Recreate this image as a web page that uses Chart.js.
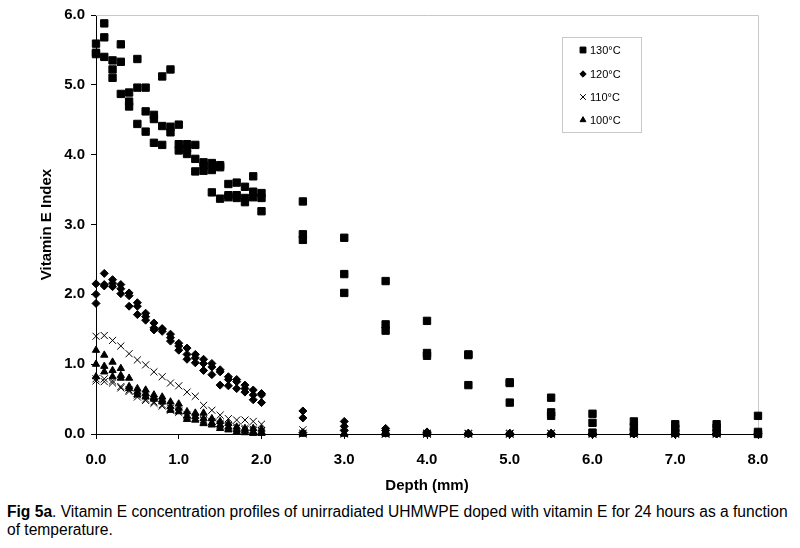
<!DOCTYPE html>
<html>
<head>
<meta charset="utf-8">
<script src="https://cdn.jsdelivr.net/npm/chart.js@4/dist/chart.umd.min.js"></script>
<style>
  body { margin: 0; background: #fff; }
  #wrap { position: relative; width: 800px; height: 548px; }
  #box { position: absolute; left: 0; top: 0; width: 800px; height: 495px; }
  #caption {
    position: absolute; left: 7px; top: 503px; width: 795px;
    font-family: "Liberation Sans", Arial, sans-serif; font-size: 15.6px;
    line-height: 18px; color: #000; white-space: nowrap;
  }
</style>
</head>
<body>
<div id="wrap">
  <div id="box"><canvas id="myChart"></canvas></div>
  <div id="caption"><b>Fig 5a</b>. Vitamin E concentration profiles of unirradiated UHMWPE doped with vitamin E for 24 hours as a function<br>of temperature.</div>
</div>
<script>
// depth (mm)
var depths = [0, 0.1, 0.2, 0.3, 0.4, 0.5, 0.6, 0.7, 0.8, 0.9, 1.0, 1.1, 1.2, 1.3, 1.4, 1.5, 1.6, 1.7, 1.8, 1.9, 2.0,
  2.5, 3.0, 3.5, 4.0, 4.5, 5.0, 5.5, 6.0, 6.5, 7.0, 7.5, 8.0];

// vitamin E index, three samples per temperature
var t130a = [5.59, 5.88, 5.35, 5.58, 4.89, 5.37, 4.96, 4.57, 5.12, 5.22, 4.43, 4.15, 4.14, 3.89, 3.88, 3.85, 3.58, 3.60, 3.54, 3.69, 3.45,
  3.33, 2.81, 2.19, 1.62, 1.14, 0.74, 0.52, 0.29, 0.18, 0.14, 0.14, 0.26];
var t130b = [5.46, 5.68, 5.22, 5.33, 4.76, 4.96, 4.62, 4.51, 4.41, 4.40, 4.15, 4.09, 3.94, 3.84, 3.78, 3.82, 3.42, 3.42, 3.38, 3.47, 3.38,
  2.86, 2.29, 1.57, 1.16, 0.70, 0.45, 0.31, 0.16, 0.10, 0.08, 0.09, 0.03];
var t130c = [5.44, 5.40, 5.10, 4.87, 4.69, 4.44, 4.33, 4.17, 4.14, 4.32, 4.06, 4.01, 3.76, 3.77, 3.46, 3.37, 3.39, 3.38, 3.32, 3.39, 3.19,
  2.78, 2.02, 1.48, 1.12, 1.13, 0.73, 0.26, 0.02, 0.03, 0.02, 0.02, 0.00];

var t120a = [2.15, 2.30, 2.21, 2.14, 2.02, 1.88, 1.73, 1.59, 1.51, 1.43, 1.30, 1.23, 1.14, 1.07, 1.01, 0.92, 0.82, 0.78, 0.70, 0.63, 0.58,
  0.33, 0.18, 0.08, 0.03, 0.01, 0.01, 0.01, 0.01, 0.01, 0.01, 0.01, 0.01];
var t120b = [2.00, 2.14, 2.16, 2.08, 1.98, 1.83, 1.68, 1.52, 1.50, 1.38, 1.26, 1.14, 1.09, 1.01, 0.96, 0.89, 0.78, 0.75, 0.65, 0.56, 0.56,
  0.23, 0.11, 0.05, 0.02, 0.01, 0.00, 0.00, 0.00, 0.00, 0.00, 0.00, 0.00];
var t120c = [1.87, 2.12, 2.11, 2.01, 1.83, 1.71, 1.63, 1.49, 1.47, 1.33, 1.20, 1.07, 1.02, 0.91, 0.85, 0.70, 0.69, 0.65, 0.60, 0.49, 0.45,
  0.02, 0.05, 0.01, 0.01, 0.00, 0.00, 0.00, 0.00, 0.00, 0.00, 0.00, 0.00];

var t110a = [1.40, 1.41, 1.34, 1.26, 1.15, 1.06, 0.99, 0.89, 0.82, 0.73, 0.69, 0.60, 0.54, 0.41, 0.34, 0.27, 0.22, 0.20, 0.20, 0.18, 0.14,
  0.06, 0.02, 0.01, 0.01, 0.01, 0.01, 0.01, 0.01, 0.01, 0.01, 0.01, 0.01];
var t110b = [0.79, 0.79, 0.76, 0.68, 0.63, 0.56, 0.50, 0.46, 0.42, 0.37, 0.33, 0.27, 0.24, 0.21, 0.18, 0.15, 0.12, 0.10, 0.08, 0.07, 0.05,
  0.01, 0.01, 0.00, 0.00, 0.00, 0.00, 0.00, 0.00, 0.00, 0.00, 0.00, 0.00];
var t110c = [0.76, 0.75, 0.73, 0.66, 0.61, 0.53, 0.48, 0.44, 0.40, 0.34, 0.31, 0.25, 0.22, 0.19, 0.16, 0.13, 0.10, 0.08, 0.06, 0.05, 0.04,
  0.00, 0.00, 0.00, 0.00, 0.00, 0.00, 0.00, 0.00, 0.00, 0.00, 0.00, 0.00];

var t100a = [1.20, 1.13, 1.03, 0.94, 0.80, 0.65, 0.63, 0.56, 0.53, 0.46, 0.43, 0.32, 0.30, 0.30, 0.22, 0.18, 0.15, 0.10, 0.08, 0.08, 0.07,
  0.01, 0.01, 0.01, 0.01, 0.01, 0.01, 0.01, 0.01, 0.01, 0.01, 0.01, 0.01];
var t100b = [1.00, 0.97, 0.91, 0.84, 0.68, 0.60, 0.58, 0.52, 0.49, 0.39, 0.37, 0.26, 0.25, 0.22, 0.16, 0.13, 0.10, 0.06, 0.05, 0.03, 0.03,
  0.00, 0.00, 0.00, 0.00, 0.00, 0.00, 0.00, 0.00, 0.00, 0.00, 0.00, 0.00];
var t100c = [0.82, 0.89, 0.82, 0.80, 0.65, 0.56, 0.53, 0.50, 0.46, 0.34, 0.32, 0.21, 0.20, 0.15, 0.13, 0.08, 0.06, 0.03, 0.02, 0.01, 0.01,
  0.00, 0.00, 0.00, 0.00, 0.00, 0.00, 0.00, 0.00, 0.00, 0.00, 0.00, 0.00];

var seriesNames = ["130\u00B0C", "120\u00B0C", "110\u00B0C", "100\u00B0C"];
var seriesData = [[t130a, t130b, t130c], [t120a, t120b, t120c], [t110a, t110b, t110c], [t100a, t100b, t100c]];
var markerStyles = ["rect", "rectRot", "crossRot", "triangle"];
var markerSizes = [5.2, 4, 5, 4.2];

var fontFam = "'Liberation Sans', Arial, sans-serif";

function toPoints(arrs) {
  var pts = [];
  arrs.forEach(function (vals) {
    for (var i = 0; i < depths.length; i++) {
      if (vals[i] !== null) pts.push({ x: depths[i], y: vals[i] });
    }
  });
  return pts;
}

var datasets = seriesNames.map(function (name, i) {
  return {
    label: name,
    data: toPoints(seriesData[i]),
    pointStyle: markerStyles[i],
    pointRadius: markerSizes[i],
    pointHoverRadius: markerSizes[i],
    backgroundColor: "#000",
    borderColor: "#000",
    pointBorderWidth: 1,
    clip: false
  };
});

// light grey frame on the top and right of the plot
var frame = {
  id: "frame",
  beforeDatasetsDraw: function (chart) {
    var a = chart.chartArea, ctx = chart.ctx;
    ctx.save();
    ctx.strokeStyle = "#c8c8c8";
    ctx.lineWidth = 1;
    ctx.beginPath();
    ctx.moveTo(a.left, a.top + 0.5);
    ctx.lineTo(a.right + 0.5, a.top + 0.5);
    ctx.lineTo(a.right + 0.5, a.bottom);
    ctx.stroke();
    ctx.restore();
  }
};

// boxed legend inside the plot
var boxLegend = {
  id: "boxLegend",
  afterDraw: function (chart) {
    var ctx = chart.ctx;
    ctx.save();
    ctx.strokeStyle = "#c8c8c8";
    ctx.lineWidth = 1;
    ctx.strokeRect(562.5, 37.5, 79, 95);
    ctx.font = "11px " + fontFam;
    ctx.fillStyle = "#000";
    ctx.textBaseline = "middle";
    var rows = [50, 74, 97, 120];
    seriesNames.forEach(function (name, i) {
      var opts = { pointStyle: markerStyles[i], radius: markerSizes[i] * 0.8, rotation: 0, borderWidth: 1 };
      ctx.fillStyle = "#000";
      ctx.strokeStyle = "#000";
      ctx.lineWidth = 1;
      Chart.helpers.drawPoint(ctx, opts, 583, rows[i]);
      ctx.fillText(name, 590, rows[i] + 0.5);
    });
    ctx.restore();
  }
};

new Chart("myChart", {
  type: "scatter",
  data: { datasets: datasets },
  plugins: [frame, boxLegend],
  options: {
    responsive: true,
    maintainAspectRatio: false,
    animation: false,
    layout: { padding: { left: 0, right: 42, top: 14, bottom: 0 } },
    plugins: { legend: { display: false }, tooltip: { enabled: false } },
    scales: {
      x: {
        type: "linear",
        min: 0,
        max: 8,
        afterFit: function (s) { s.height = 61; },
        ticks: {
          stepSize: 1,
          padding: 12,
          color: "#000",
          font: { family: fontFam, size: 15, weight: "bold" },
          callback: function (v) { return v.toFixed(1); }
        },
        grid: { drawOnChartArea: false, tickLength: 5, color: "#000" },
        border: { color: "#000", width: 1 },
        title: {
          display: true,
          text: "Depth (mm)",
          color: "#000",
          padding: { top: 4, bottom: 0 },
          font: { family: fontFam, size: 15, weight: "bold" }
        }
      },
      y: {
        min: 0,
        max: 6,
        afterFit: function (s) { s.width = 96; },
        ticks: {
          stepSize: 1,
          padding: 6,
          color: "#000",
          font: { family: fontFam, size: 15, weight: "bold" },
          callback: function (v) { return v.toFixed(1); }
        },
        grid: { drawOnChartArea: false, tickLength: 5, color: "#000" },
        border: { color: "#000", width: 1 },
        title: {
          display: true,
          text: "Vitamin E Index",
          color: "#000",
          padding: { top: 38, bottom: 0 },
          font: { family: fontFam, size: 15, weight: "bold" }
        }
      }
    }
  }
});
</script>
</body>
</html>
